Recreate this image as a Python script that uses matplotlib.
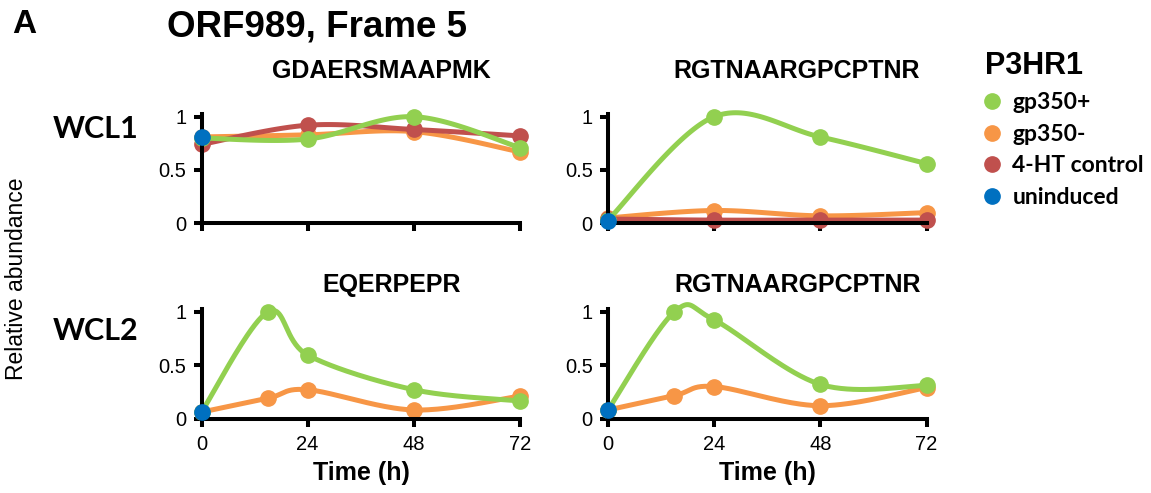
import numpy as np
import matplotlib
matplotlib.use("Agg")
import matplotlib.pyplot as plt
from matplotlib.lines import Line2D
from matplotlib.font_manager import FontProperties

# time points (h)
time_wcl1 = [0, 24, 48, 72]
time_wcl2 = [0, 15, 24, 48, 72]

# WCL1, GDAERSMAAPMK
gda_gp350_pos = [0.80, 0.79, 1.00, 0.71]
gda_gp350_neg = [0.81, 0.83, 0.86, 0.67]
gda_4ht = [0.74, 0.92, 0.88, 0.82]
gda_uninduced = [0.81]

# WCL1, RGTNAARGPCPTNR
rgt1_gp350_pos = [0.03, 1.00, 0.81, 0.56]
rgt1_gp350_neg = [0.05, 0.12, 0.07, 0.10]
rgt1_4ht = [0.04, 0.03, 0.03, 0.03]
rgt1_uninduced = [0.02]

# WCL2, EQERPEPR
eqe_gp350_pos = [0.06, 1.00, 0.595, 0.27, 0.165]
eqe_gp350_neg = [0.06, 0.19, 0.27, 0.08, 0.21]
eqe_uninduced = [0.06]

# WCL2, RGTNAARGPCPTNR
rgt2_gp350_pos = [0.08, 1.00, 0.925, 0.32, 0.31]
rgt2_gp350_neg = [0.08, 0.215, 0.30, 0.12, 0.29]
rgt2_uninduced = [0.08]

labels = ["gp350+", "gp350-", "4-HT control", "uninduced"]
colors = ["#92D050", "#F79646", "#C0504D", "#0070C0"]

ARIAL = "Liberation Sans"
W, H = 1151, 493


def smooth(ax, x, y, n=40):
    # excel-like smoothed line, computed in screen space
    pts = ax.transData.transform(np.column_stack([x, y]))
    padded = np.vstack([pts[0], pts, pts[-1]])
    t = np.linspace(0, 1, n)[:, None]
    out = []
    for i in range(len(pts) - 1):
        p0, p1, p2, p3 = padded[i], padded[i + 1], padded[i + 2], padded[i + 3]
        c1 = p1 + (p2 - p0) / 6
        c2 = p2 - (p3 - p1) / 6
        out.append((1 - t) ** 3 * p1 + 3 * (1 - t) ** 2 * t * c1 + 3 * (1 - t) * t ** 2 * c2 + t ** 3 * p2)
    return ax.transData.inverted().transform(np.vstack(out))


def panel(rect, times, series, uninduced, show_xlabels):
    ax = fig.add_axes(rect)
    ax.set_xlim(0, 72)
    ax.set_ylim(0, 1.03)
    for side in ["top", "right"]:
        ax.spines[side].set_visible(False)
    for side in ["left", "bottom"]:
        ax.spines[side].set_linewidth(2.9)
    ax.set_xticks([0, 24, 48, 72])
    ax.set_yticks([0, 0.5, 1])
    ax.set_yticklabels(["0", "0.5", "1"])
    ax.tick_params(direction="out", length=6, width=2.9, labelsize=14.5, pad=5)
    ax.tick_params(axis="x", labelbottom=show_xlabels, pad=6)
    for lab in ax.get_xticklabels() + ax.get_yticklabels():
        lab.set_fontfamily(ARIAL)
    for vals, c in series:
        curve = smooth(ax, times, vals)
        ax.plot(curve[:, 0], curve[:, 1], color=c, lw=3.6, clip_on=False, solid_capstyle="round")
        ax.plot(times, vals, "o", color=c, ms=11, clip_on=False)
    ax.plot(times[:1], uninduced, "o", color=colors[3], ms=11, clip_on=False, zorder=5)
    return ax


fig = plt.figure(figsize=(W / 100, H / 100), dpi=100)

left1, left2, width = 201.5 / W, 608 / W, 318.5 / W
bot1, bot2, height = 1 - 223.3 / H, 1 - 418.5 / H, 109.8 / H

panel([left1, bot1, width, height], time_wcl1,
      [(gda_gp350_neg, colors[1]), (gda_4ht, colors[2]), (gda_gp350_pos, colors[0])],
      gda_uninduced, False)
panel([left2, bot1, width, height], time_wcl1,
      [(rgt1_gp350_neg, colors[1]), (rgt1_4ht, colors[2]), (rgt1_gp350_pos, colors[0])],
      rgt1_uninduced, False)
panel([left1, bot2, width, height], time_wcl2,
      [(eqe_gp350_neg, colors[1]), (eqe_gp350_pos, colors[0])],
      eqe_uninduced, True)
panel([left2, bot2, width, height], time_wcl2,
      [(rgt2_gp350_neg, colors[1]), (rgt2_gp350_pos, colors[0])],
      rgt2_uninduced, True)


def ftext(x, y, s, **kw):
    fig.text(x / W, 1 - y / H, s, **kw)


ftext(12, 33, "A", family=ARIAL, weight="bold", size=24, va="baseline")
ftext(167, 37, "ORF989, Frame 5", family=ARIAL, weight="bold", size=26.5, va="baseline")
ftext(381, 78, "GDAERSMAAPMK", family=ARIAL, weight="bold", size=18, va="baseline", ha="center")
ftext(797, 78, "RGTNAARGPCPTNR", family=ARIAL, weight="bold", size=18, va="baseline", ha="center")
ftext(392, 292, "EQERPEPR", family=ARIAL, weight="bold", size=18, va="baseline", ha="center")
ftext(798, 292, "RGTNAARGPCPTNR", family=ARIAL, weight="bold", size=18, va="baseline", ha="center")
ftext(53, 138, "WCL1", family="Lato", weight="bold", size=22, va="baseline")
ftext(53, 340, "WCL2", family="Lato", weight="bold", size=22, va="baseline")
ftext(17, 279, "Relative abundance", family=ARIAL, size=16.5, rotation=90, va="center", ha="center")
ftext(361, 480, "Time (h)", family=ARIAL, weight="bold", size=18, va="baseline", ha="center")
ftext(767, 480, "Time (h)", family=ARIAL, weight="bold", size=18, va="baseline", ha="center")

handles = [Line2D([], [], ls="none", marker="o", ms=11, color=c) for c in colors]
fig.legend(handles, labels, loc="upper left", bbox_to_anchor=(985 / W, 1 - 51 / H),
           frameon=False, title="P3HR1", alignment="left",
           title_fontproperties=FontProperties(family=ARIAL, weight="bold", size=22),
           prop=FontProperties(family="Lato", weight="bold", size=16.5),
           handlelength=0.6, handletextpad=0.6, labelspacing=0.47,
           borderpad=0, borderaxespad=0)

fig.savefig("out.png", dpi=100)
